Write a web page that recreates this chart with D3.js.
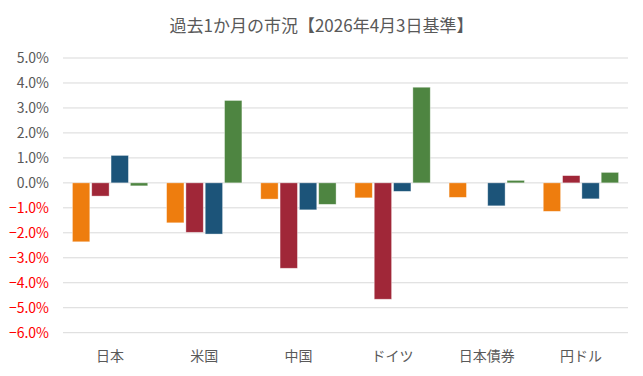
<!DOCTYPE html>
<html lang="ja">
<head>
<meta charset="UTF-8" />
<title>過去1か月の市況</title>
<script src="https://d3js.org/d3.v7.min.js"></script>
<style>
  body { margin: 0; background: #fff; }
  svg { display: block; font-family: "Noto Sans CJK JP", "Noto Sans", sans-serif; }
</style>
</head>
<body>
<div class="chart"></div>
<script>
const categories = ["日本", "米国", "中国", "ドイツ", "日本債券", "円ドル"];
const seriesKeys = ["s1", "s2", "s3", "s4"];
const seriesColors = ["#EE7D0E", "#A02738", "#1C5479", "#4E8541"];
const s1 = [-2.36, -1.60, -0.65, -0.60, -0.58, -1.14];
const s2 = [-0.53, -1.98, -3.42, -4.66, null, 0.29];
const s3 = [1.10, -2.05, -1.08, -0.34, -0.92, -0.64];
const s4 = [-0.12, 3.30, -0.86, 3.83, 0.10, 0.42];
const yTicks = [5, 4, 3, 2, 1, 0, -1, -2, -3, -4, -5, -6];

const width = 643, height = 376;
const margin = {top: 58, right: 15, bottom: 43.3, left: 63};
const innerW = width - margin.left - margin.right;
const innerH = height - margin.top - margin.bottom;

const svg = d3.select(".chart").append("svg")
  .attr("width", width).attr("height", height);

svg.append("text")
  .attr("x", width / 2).attr("y", 32)
  .attr("text-anchor", "middle")
  .attr("font-size", 17)
  .attr("fill", "#595959")
  .text("過去1か月の市況【2026年4月3日基準】");

const g = svg.append("g").attr("transform", `translate(${margin.left},${margin.top})`);

const y = d3.scaleLinear().domain([5, -6]).range([0, innerH]);
const x0 = d3.scaleBand().domain(categories).range([0, innerW]).paddingInner(0.2).paddingOuter(0.1);
const x1 = d3.scaleBand().domain(seriesKeys).range([0, x0.bandwidth()]).paddingInner(0.1).paddingOuter(0);
const color = d3.scaleOrdinal().domain(seriesKeys).range(seriesColors);

// グリッド線
g.append("g").selectAll("line").data(yTicks).join("line")
  .attr("x1", 0).attr("x2", innerW)
  .attr("y1", d => y(d)).attr("y2", d => y(d))
  .attr("stroke", "#D9D9D9").attr("stroke-width", 1);

// Y軸ラベル
g.append("g").selectAll("text").data(yTicks).join("text")
  .attr("x", -14).attr("y", d => y(d))
  .attr("dy", "0.35em")
  .attr("text-anchor", "end")
  .attr("font-size", 14)
  .attr("fill", d => d < 0 ? "#FF0000" : "#595959")
  .text(d => d3.format(".1f")(d) + "%");

// 棒
const rows = categories.map((c, i) => ({
  cat: c,
  vals: [s1[i], s2[i], s3[i], s4[i]].map((v, k) => ({key: seriesKeys[k], v}))
}));

g.selectAll(".grp").data(rows).join("g")
  .attr("transform", d => `translate(${x0(d.cat)},0)`)
  .selectAll("rect").data(d => d.vals.filter(e => e.v != null)).join("rect")
    .attr("x", d => x1(d.key))
    .attr("width", x1.bandwidth())
    .attr("y", d => y(Math.max(0, d.v)))
    .attr("height", d => Math.abs(y(d.v) - y(0)))
    .attr("fill", d => color(d.key))
    .attr("stroke", "#ffffff").attr("stroke-opacity", 0.5).attr("stroke-width", 0.75);

// X軸ラベル
g.append("g").selectAll("text").data(categories).join("text")
  .attr("x", d => x0(d) + x0.bandwidth() / 2)
  .attr("y", innerH + 28)
  .attr("text-anchor", "middle")
  .attr("font-size", 14)
  .attr("fill", "#595959")
  .text(d => d);
</script>
</body>
</html>
